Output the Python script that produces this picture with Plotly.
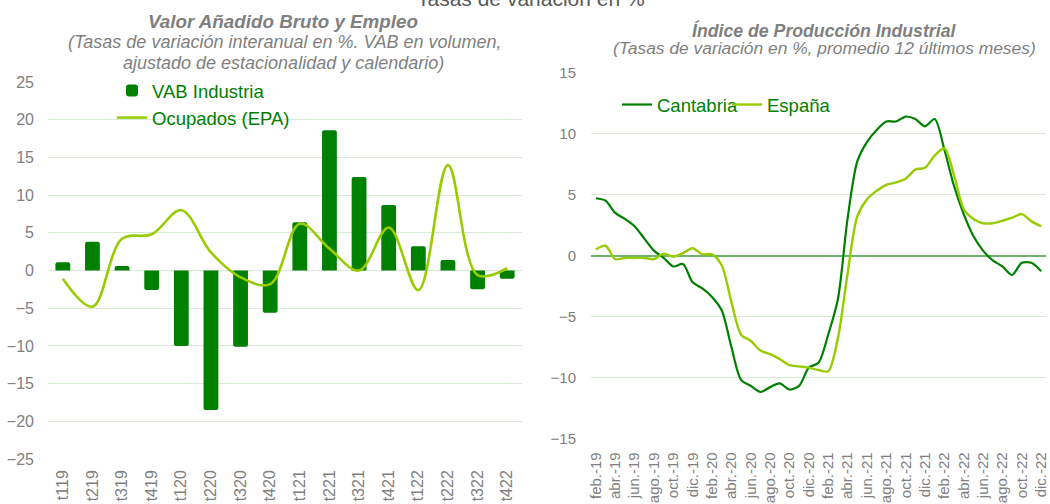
import plotly.graph_objects as go

# ---------------- data ----------------
trimestres = ["t119", "t219", "t319", "t419", "t120", "t220", "t320", "t420",
              "t121", "t221", "t321", "t421", "t122", "t222", "t322", "t422"]
vab_industria = [1.1, 3.8, 0.6, -2.6, -10.0, -18.5, -10.1, -5.6,
                 6.4, 18.6, 12.4, 8.7, 3.2, 1.4, -2.5, -1.1]
ocupados_epa = [-1.1, -4.8, 4.2, 4.8, 8.0, 2.4, -0.9, -1.8,
                6.2, 2.9, 0.0, 5.7, -2.6, 14.0, -0.6, 0.3]

meses = ["feb.-19", "mar.-19", "abr.-19", "may.-19", "jun.-19", "jul.-19", "ago.-19", "sep.-19",
         "oct.-19", "nov.-19", "dic.-19", "ene.-20", "feb.-20", "mar.-20", "abr.-20", "may.-20",
         "jun.-20", "jul.-20", "ago.-20", "sep.-20", "oct.-20", "nov.-20", "dic.-20", "ene.-21",
         "feb.-21", "mar.-21", "abr.-21", "may.-21", "jun.-21", "jul.-21", "ago.-21", "sep.-21",
         "oct.-21", "nov.-21", "dic.-21", "ene.-22", "feb.-22", "mar.-22", "abr.-22", "may.-22",
         "jun.-22", "jul.-22", "ago.-22", "sep.-22", "oct.-22", "nov.-22", "dic.-22"]
cantabria = [4.7, 4.5, 3.5, 3.0, 2.4, 1.4, 0.4, -0.2,
             -0.9, -0.7, -2.2, -2.7, -3.4, -4.5, -7.5, -10.2,
             -10.7, -11.2, -10.8, -10.5, -11.0, -10.7, -9.2, -8.8,
             -6.5, -3.6, 3.0, 7.7, 9.3, 10.3, 11.0, 11.0,
             11.4, 11.2, 10.6, 11.2, 8.7, 5.7, 3.4, 1.6,
             0.4, -0.4, -0.9, -1.6, -0.6, -0.6, -1.3]
espana = [0.5, 0.8, -0.3, -0.2, -0.2, -0.2, -0.3, 0.15,
          -0.1, 0.2, 0.6, 0.1, 0.1, -0.8, -3.8, -6.5,
          -7.0, -7.8, -8.1, -8.5, -9.0, -9.1, -9.2, -9.4,
          -9.5, -6.8, -1.5, 3.2, 4.6, 5.3, 5.8, 6.0,
          6.3, 7.05, 7.2, 8.2, 8.8, 6.6, 3.8, 3.0,
          2.65, 2.65, 2.85, 3.1, 3.4, 2.8, 2.4]

left_yticks = [25, 20, 15, 10, 5, 0, -5, -10, -15, -20, -25]
right_yticks = [15, 10, 5, 0, -5, -10, -15]

# ---------------- style ----------------
W, H = 1050, 504
FONT = "Liberation Sans, Arial, sans-serif"
GRAY = "#7f7f7f"
TICKGRAY = "#808080"
GRID = "#d9ead6"
DARK = "#008000"
LIGHT = "#99cc00"


def px_x(p):
    return p / W


def px_y(p):
    return 1 - p / H


fig = go.Figure()

fig.add_trace(go.Bar(
    x=trimestres, y=vab_industria, name="VAB Industria",
    marker=dict(color=DARK, line=dict(width=0), cornerradius=2),
    width=0.5, xaxis="x", yaxis="y", legend="legend",
))
fig.add_trace(go.Scatter(
    x=trimestres, y=ocupados_epa, name="Ocupados (EPA)", mode="lines",
    line=dict(color=LIGHT, width=2.6, shape="spline", smoothing=1.0),
    xaxis="x", yaxis="y", legend="legend",
))
fig.add_trace(go.Scatter(
    x=meses, y=cantabria, name="Cantabria", mode="lines",
    line=dict(color=DARK, width=2.2, shape="spline", smoothing=0.8),
    xaxis="x2", yaxis="y2", legend="legend2",
))
fig.add_trace(go.Scatter(
    x=meses, y=espana, name="España", mode="lines",
    line=dict(color=LIGHT, width=2.4, shape="spline", smoothing=0.8),
    xaxis="x2", yaxis="y2", legend="legend2",
))

fig.update_layout(
    template="none",
    width=W, height=H,
    margin=dict(l=0, r=0, t=0, b=0, autoexpand=False),
    paper_bgcolor="white", plot_bgcolor="white",
    font=dict(family=FONT, color=GRAY),
    bargap=0.5,
    hovermode=False,
    xaxis=dict(
        domain=[px_x(48), px_x(522)], anchor="y", automargin=False,
        type="category", categoryorder="array", categoryarray=trimestres,
        range=[-0.5, len(trimestres) - 0.5],
        tickangle=-90, tickfont=dict(family=FONT, size=16, color=TICKGRAY),
        showgrid=False, zeroline=False, showline=False, ticks="", ticklabelstandoff=7,
    ),
    yaxis=dict(
        domain=[px_y(459), px_y(82)], anchor="x", automargin=False,
        range=[-25, 25], tickmode="array", tickvals=left_yticks,
        tickfont=dict(family=FONT, size=16, color=TICKGRAY),
        showgrid=True, gridcolor=GRID, gridwidth=1.3,
        zeroline=False, showline=False, ticks="", ticklabelstandoff=13,
    ),
    xaxis2=dict(
        domain=[px_x(591), px_x(1046)], anchor="y2", automargin=False,
        type="category", categoryorder="array", categoryarray=meses,
        range=[-0.5, len(meses) - 0.5],
        tickmode="array", tickvals=meses[::2], ticktext=meses[::2],
        tickangle=-90, tickfont=dict(family=FONT, size=15, color=TICKGRAY),
        showgrid=False, zeroline=False, showline=False, ticks="", ticklabelstandoff=10,
    ),
    yaxis2=dict(
        domain=[px_y(438.3), px_y(72.7)], anchor="x2", automargin=False,
        range=[-15, 15], tickmode="array", tickvals=right_yticks,
        tickfont=dict(family=FONT, size=15, color=TICKGRAY),
        showgrid=True, gridcolor=GRID, gridwidth=1.3,
        zeroline=True, zerolinecolor="#6db36d", zerolinewidth=1.5,
        showline=False, ticks="", ticklabelstandoff=14,
    ),
    legend=dict(
        x=px_x(112), y=px_y(72), xanchor="left", yanchor="top",
        orientation="v", bgcolor="rgba(0,0,0,0)",
        font=dict(family=FONT, size=18.5, color=DARK),
        itemwidth=30, tracegroupgap=0, traceorder="normal",
    ),
    legend2=dict(
        x=px_x(617), y=px_y(86), xanchor="left", yanchor="top",
        orientation="h", bgcolor="rgba(0,0,0,0)",
        font=dict(family=FONT, size=18.5, color=DARK),
        itemwidth=30, traceorder="normal",
        entrywidth=65, entrywidthmode="pixels",
    ),
    showlegend=True,
)

annotations = [
    dict(text="Tasas de variación en %", x=px_x(531), y=px_y(12),
         xanchor="center", yanchor="bottom", font=dict(family=FONT, size=21, color="#595959")),
    dict(text="<b><i>Valor Añadido Bruto y Empleo</i></b>", x=px_x(283), y=px_y(21.5),
         xanchor="center", yanchor="middle", font=dict(family=FONT, size=18.8, color=GRAY)),
    dict(text="<i>(Tasas de variación interanual en %. VAB en volumen,</i>", x=px_x(285), y=px_y(42),
         xanchor="center", yanchor="middle", font=dict(family=FONT, size=18, color=GRAY)),
    dict(text="<i>ajustado de estacionalidad y calendario)</i>", x=px_x(283), y=px_y(63),
         xanchor="center", yanchor="middle", font=dict(family=FONT, size=18, color=GRAY)),
    dict(text="<b><i>Índice de Producción Industrial</i></b>", x=px_x(824), y=px_y(30),
         xanchor="center", yanchor="middle", font=dict(family=FONT, size=17.7, color=GRAY)),
    dict(text="<i>(Tasas de variación en %, promedio 12 últimos meses)</i>", x=px_x(824), y=px_y(48.5),
         xanchor="center", yanchor="middle", font=dict(family=FONT, size=17.4, color=GRAY)),
]
for a in annotations:
    a.update(xref="paper", yref="paper", showarrow=False)
fig.update_layout(annotations=annotations)

fig.write_html("out.html", config={"displayModeBar": False},
               post_script="document.body.style.margin='0';")
